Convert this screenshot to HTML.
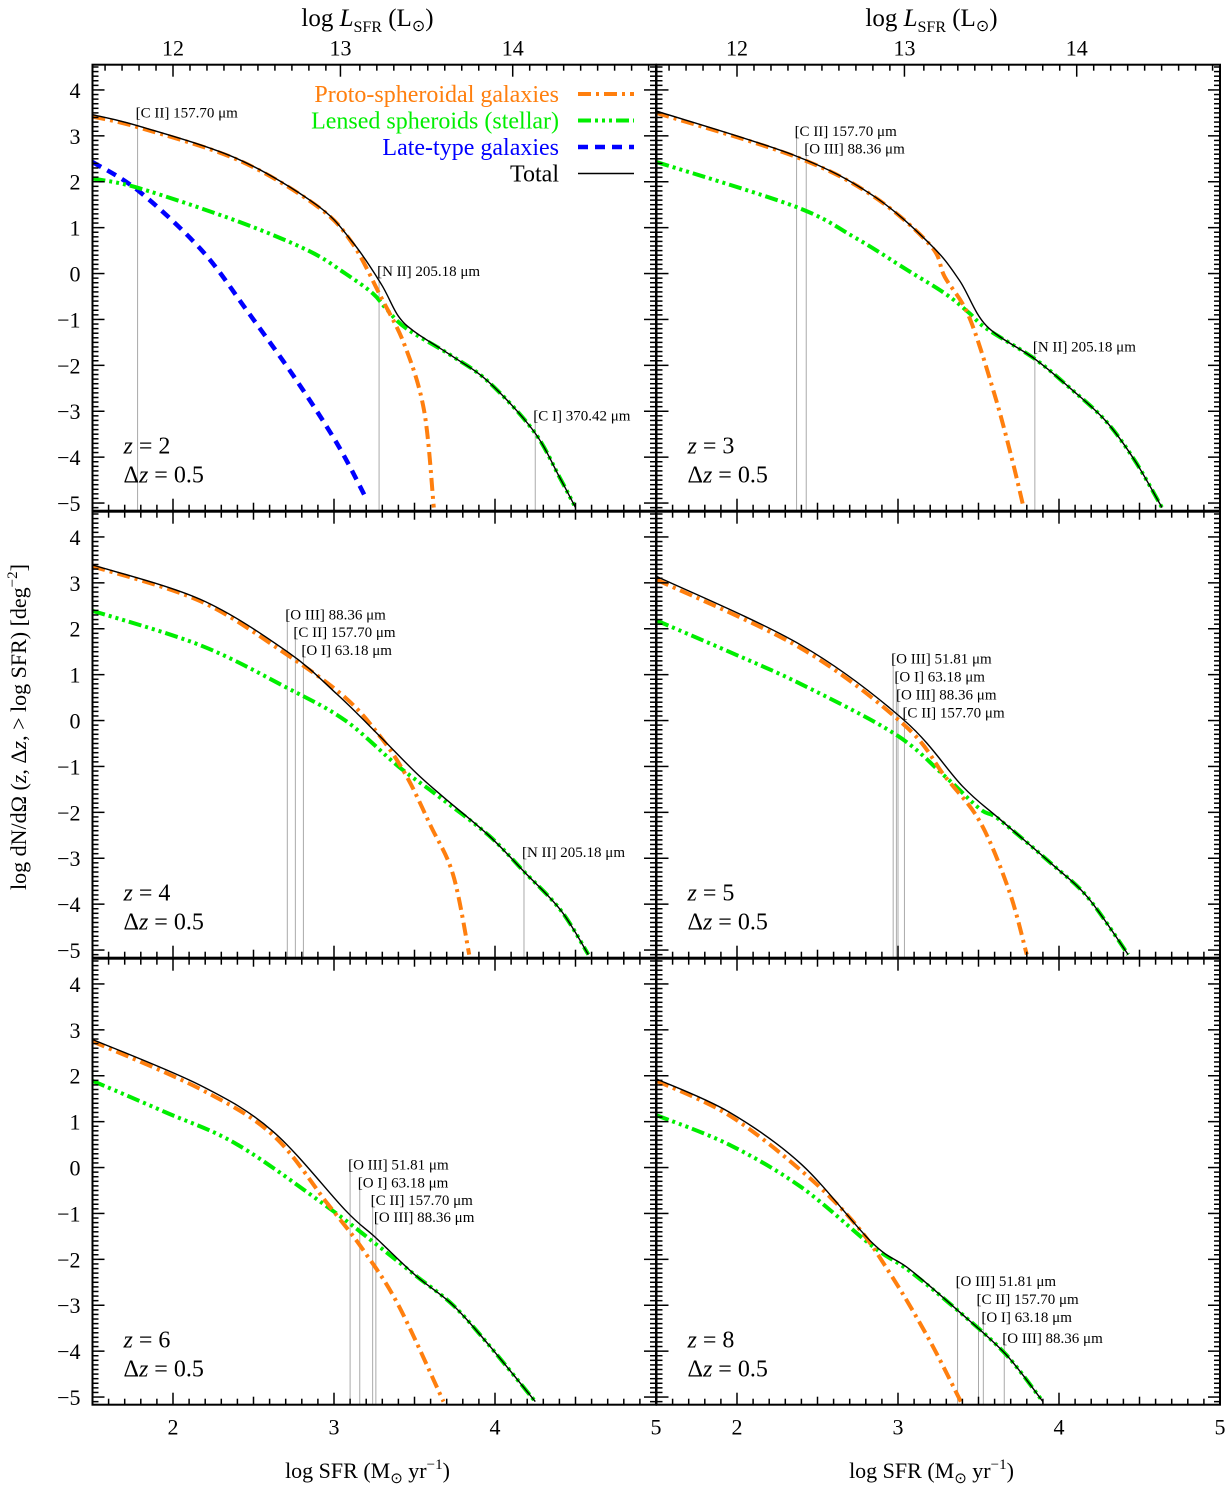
<!DOCTYPE html>
<html><head><meta charset="utf-8">
<style>
html,body{margin:0;padding:0;background:#fff;}
svg{display:block;font-family:"Liberation Serif",serif;}
</style></head>
<body>
<svg id="chart" width="1227" height="1489" viewBox="0 0 1227 1489" xmlns="http://www.w3.org/2000/svg"></svg>
<script>
// ---- data ----
const panelZ = ["2","3","4","5","6","8"];
const xTicks = [2,3,4,5];
const yTicks = [-5,-4,-3,-2,-1,0,1,2,3,4];
const lTickLabels = ["12","13","14"];
const lTickSfr = [2.0,3.04,4.11];

const protoX = [
 [1.5,1.79,2.4,2.89,3.11,3.29,3.44,3.56,3.62],
 [1.5,2.36,2.84,3.2,3.29,3.44,3.6,3.71,3.78],
 [1.5,2.17,2.71,3.07,3.29,3.45,3.6,3.74,3.84],
 [1.5,2.4,3.04,3.29,3.51,3.69,3.8],
 [1.5,2.17,2.62,2.96,3.18,3.4,3.68],
 [1.5,1.95,2.4,2.73,2.96,3.2,3.39]];
const protoY = [
 [3.42,3.18,2.48,1.48,0.68,-0.5,-1.57,-3.0,-5.1],
 [3.5,2.55,1.7,0.62,-0.07,-0.93,-2.64,-4.07,-5.1],
 [3.36,2.6,1.43,0.5,-0.36,-1.21,-2.29,-3.36,-5.1],
 [3.07,1.57,-0.1,-1.21,-2.21,-3.71,-5.1],
 [2.75,1.71,0.71,-0.79,-1.79,-3.0,-5.1],
 [1.89,1.14,-0.07,-1.21,-2.36,-3.79,-5.1]];
const lensX = [
 [1.5,1.79,2.4,2.84,3.07,3.24,3.33,3.45,3.73,3.96,4.24,4.4,4.5],
 [1.5,2.36,2.73,3.06,3.29,3.44,3.55,3.85,4.07,4.29,4.47,4.64],
 [1.5,2.17,2.71,3.07,3.4,3.63,3.96,4.18,4.41,4.58],
 [1.5,1.95,2.4,2.98,3.29,3.51,3.63,3.96,4.18,4.43],
 [1.5,1.95,2.4,2.96,3.25,3.51,3.74,3.96,4.25],
 [1.5,1.95,2.4,2.84,3.07,3.38,3.67,3.9]];
const lensY = [
 [2.07,1.86,1.14,0.5,0.0,-0.43,-0.79,-1.2,-1.79,-2.36,-3.43,-4.43,-5.1],
 [2.43,1.46,0.79,0.07,-0.43,-0.85,-1.2,-1.86,-2.5,-3.21,-4.07,-5.1],
 [2.39,1.64,0.71,0.0,-1.0,-1.6,-2.5,-3.29,-4.14,-5.1],
 [2.18,1.5,0.79,-0.29,-1.21,-1.93,-2.16,-3.14,-3.86,-5.1],
 [1.89,1.21,0.5,-0.86,-1.64,-2.36,-3.0,-3.86,-5.1],
 [1.14,0.5,-0.43,-1.71,-2.25,-3.14,-4.07,-5.1]];
const totalX = [
 [1.5,1.79,2.4,2.89,3.11,3.29,3.4,3.51,3.73,3.96,4.24,4.4,4.5],
 [1.5,2.36,2.84,3.2,3.38,3.55,3.85,4.07,4.29,4.47,4.64],
 [1.5,2.17,2.71,3.02,3.29,3.51,3.67,3.96,4.18,4.41,4.58],
 [1.5,2.4,3.04,3.4,3.63,3.96,4.18,4.43],
 [1.5,2.17,2.62,3.07,3.25,3.51,3.74,3.96,4.25],
 [1.5,1.95,2.4,2.84,3.07,3.38,3.67,3.9]];
const totalY = [
 [3.46,3.21,2.5,1.5,0.71,-0.21,-0.93,-1.29,-1.79,-2.36,-3.43,-4.43,-5.1],
 [3.54,2.57,1.71,0.64,-0.14,-1.14,-1.86,-2.5,-3.21,-4.07,-5.1],
 [3.39,2.64,1.5,0.57,-0.36,-1.14,-1.64,-2.5,-3.29,-4.14,-5.1],
 [3.14,1.64,0.0,-1.43,-2.14,-3.14,-3.86,-5.1],
 [2.79,1.79,0.79,-0.93,-1.5,-2.36,-3.0,-3.86,-5.1],
 [1.93,1.21,0.07,-1.64,-2.21,-3.14,-4.07,-5.1]];
const lateX = [1.5,1.79,2.18,2.47,2.76,3.02,3.2];
const lateY = [2.43,1.79,0.5,-0.86,-2.29,-3.71,-4.9];

// annotations: [panel, xSFR, labelYvalue, text]
const lines = [
 [0,1.78,3.4,"[C II] 157.70 μm"],[0,3.28,-0.05,"[N II] 205.18 μm"],[0,4.25,-3.2,"[C I] 370.42 μm"],
 [1,2.37,3.0,"[C II] 157.70 μm"],[1,2.43,2.62,"[O III] 88.36 μm"],[1,3.85,-1.7,"[N II] 205.18 μm"],
 [2,2.71,2.2,"[O III] 88.36 μm"],[2,2.76,1.82,"[C II] 157.70 μm"],[2,2.81,1.43,"[O I] 63.18 μm"],[2,4.18,-2.97,"[N II] 205.18 μm"],
 [3,2.97,1.24,"[O III] 51.81 μm"],[3,2.99,0.85,"[O I] 63.18 μm"],[3,3.0,0.46,"[O III] 88.36 μm"],[3,3.04,0.07,"[C II] 157.70 μm"],
 [4,3.1,-0.04,"[O III] 51.81 μm"],[4,3.16,-0.43,"[O I] 63.18 μm"],[4,3.24,-0.82,"[C II] 157.70 μm"],[4,3.26,-1.19,"[O III] 88.36 μm"],
 [5,3.37,-2.58,"[O III] 51.81 μm"],[5,3.5,-2.97,"[C II] 157.70 μm"],[5,3.53,-3.36,"[O I] 63.18 μm"],[5,3.66,-3.82,"[O III] 88.36 μm"]];

// ---- geometry ----
const NS="http://www.w3.org/2000/svg";
const svg=document.getElementById("chart");
const colL=[92.5,656.5], rowT=[64.7,511.7,958.7];
const PW=563.5, PH=446, XPU=161, YPU=45.9, YMAX=4.55;
function px(p,x){return colL[p%2]+(x-1.5)*XPU;}
function py(p,y){return rowT[Math.floor(p/2)]+(YMAX-y)*YPU;}
function mk(tag,attrs,parent){const e=document.createElementNS(NS,tag);for(const k in attrs)e.setAttribute(k,attrs[k]);(parent||svg).appendChild(e);return e;}
function smooth(pts){
 let d="M"+pts[0][0].toFixed(1)+","+pts[0][1].toFixed(1);
 for(let i=0;i<pts.length-1;i++){
  const p0=pts[i-1]||pts[i],p1=pts[i],p2=pts[i+1],p3=pts[i+2]||p2;
  const c1=[p1[0]+(p2[0]-p0[0])/6,p1[1]+(p2[1]-p0[1])/6];
  const c2=[p2[0]-(p3[0]-p1[0])/6,p2[1]-(p3[1]-p1[1])/6];
  d+=" C"+c1[0].toFixed(1)+","+c1[1].toFixed(1)+" "+c2[0].toFixed(1)+","+c2[1].toFixed(1)+" "+p2[0].toFixed(1)+","+p2[1].toFixed(1);
 }
 return d;
}
const defs=mk("defs",{});
for(let p=0;p<6;p++){
 const cp=mk("clipPath",{id:"clip"+p},defs);
 mk("rect",{x:colL[p%2],y:rowT[Math.floor(p/2)],width:PW,height:PH},cp);
}
function series(p,xs,ys,style,name){
 const pts=xs.map((x,i)=>[px(p,x),py(p,ys[i])]);
 const e=mk("path",Object.assign({d:smooth(pts),fill:"none","clip-path":"url(#clip"+p+")"},style));
 
 
}
const protoStyle={stroke:"#ff7f0e","stroke-width":4,"stroke-dasharray":"13,5,3,5"};
const lensStyle={stroke:"#00ee00","stroke-width":4,"stroke-dasharray":"13,4,3,4,3,4,3,4"};
const lateStyle={stroke:"#0000ff","stroke-width":4.5,"stroke-dasharray":"10,7"};
const totStyle={stroke:"#000","stroke-width":1.4};

for(let p=0;p<6;p++){
 const g=mk("g",{});
 
 
 const L=colL[p%2],T=rowT[Math.floor(p/2)];
 lines.filter(a=>a[0]===p).forEach(a=>{
  const x=px(p,a[1]),yl=py(p,a[2]);
  const ln=mk("line",{x1:x,x2:x,y1:yl-10,y2:T+PH,stroke:"#aaa","stroke-width":1});
  
  
  const t=mk("text",{x:x-2,y:yl,"font-size":15});
  t.textContent=a[3];
  
  
 });
 if(p===0) series(p,lateX,lateY,lateStyle,'late-type-curve');
 series(p,lensX[p],lensY[p],lensStyle,'lensed-spheroids-curve');
 series(p,protoX[p],protoY[p],protoStyle,'proto-spheroidal-curve');
 series(p,totalX[p],totalY[p],totStyle,'total-curve');
 mk("rect",{x:L,y:T,width:PW,height:PH,fill:"none",stroke:"#000","stroke-width":2});
 for(let v=-51;v<=45;v++){
  const y=py(p,v/10); if(y<T||y>T+PH)continue;
  const len=(v%10===0)?12:6;
  mk("line",{x1:L,x2:L+len,y1:y,y2:y,stroke:"#000","stroke-width":1.5});
  mk("line",{x1:L+PW,x2:L+PW-len,y1:y,y2:y,stroke:"#000","stroke-width":1.5});
 }
 for(let v=15;v<=50;v++){
  const x=px(p,v/10);
  const len=(v%5===0)?(v%10===0?12:8):6;
  mk("line",{x1:x,x2:x,y1:T+PH,y2:T+PH-len,stroke:"#000","stroke-width":1.5});
  if(T>70) mk("line",{x1:x,x2:x,y1:T,y2:T+len,stroke:"#000","stroke-width":1.5});
 }
 if(p<2){
  for(let i=0;i<3;i++){
   const x=px(p,lTickSfr[i]);
   mk("line",{x1:x,x2:x,y1:T,y2:T+12,stroke:"#000","stroke-width":1.5});
   const t=mk("text",{x:x,y:T-9,"font-size":22,"text-anchor":"middle"});
   t.textContent=lTickLabels[i];
   
   
  }
  for(let k=-10;k<=30;k++){
   const s=lTickSfr[0]+k*0.1*(lTickSfr[2]-lTickSfr[0])/2;
   const x=px(p,s); if(x<L||x>L+PW||k%10===0)continue;
   mk("line",{x1:x,x2:x,y1:T,y2:T+6,stroke:"#000","stroke-width":1.5});
  }
  const tt=mk("text",{x:L+275,y:26,"font-size":25,"text-anchor":"middle"});
  tt.innerHTML='log <tspan font-style="italic">L</tspan><tspan font-size="16" dy="6">SFR</tspan><tspan dy="-6"> (L</tspan><tspan font-size="16" dy="5">⊙</tspan><tspan dy="-5">)</tspan>';
  
  
 }
 if(p%2===0){
  yTicks.forEach(v=>{
   const t=mk("text",{x:L-12,y:py(p,v)+8,"font-size":22,"text-anchor":"end"});
   t.textContent=v<0?"−"+(-v):String(v);
   
   
  });
 }
 if(p>=4){
  xTicks.forEach(v=>{
   const t=mk("text",{x:px(p,v),y:T+PH+30,"font-size":22,"text-anchor":"middle"});
   t.textContent=String(v);
   
   
  });
  const xt=mk("text",{x:L+275,y:1478,"font-size":22,"text-anchor":"middle"});
  xt.innerHTML='log SFR (M<tspan font-size="15" dy="5">⊙</tspan><tspan dy="-5"> yr</tspan><tspan font-size="15" dy="-9">−1</tspan><tspan dy="9">)</tspan>';
  
  
 }
 const zt=mk("text",{x:L+31,y:T+PH-57,"font-size":24});
 zt.innerHTML='<tspan font-style="italic">z</tspan> = '+panelZ[p];
 
 
 const dz=mk("text",{x:L+31,y:T+PH-28,"font-size":24});
 dz.innerHTML='Δ<tspan font-style="italic">z</tspan> = 0.5';
 
 
}
const yt=mk("text",{x:0,y:0,"font-size":22,"text-anchor":"middle",transform:"translate(26,727) rotate(-90)"});
yt.innerHTML='log dN/dΩ (<tspan font-style="italic">z</tspan>, Δ<tspan font-style="italic">z</tspan>, &gt; log SFR) [deg<tspan font-size="15" dy="-9">−2</tspan><tspan dy="9">]</tspan>';


const leg=[["Proto-spheroidal galaxies","#ff7f0e",protoStyle],["Lensed spheroids (stellar)","#00ee00",lensStyle],["Late-type galaxies","#0000ff",lateStyle],["Total","#000",totStyle]];
leg.forEach((l,i)=>{
 const y=102+i*26.5;
 const t=mk("text",{x:559,y:y,"font-size":24,"text-anchor":"end",fill:l[1]});
 t.textContent=l[0];
 
 
 const ln=mk("line",Object.assign({x1:578,x2:634,y1:y-8,y2:y-8},l[2]));
 
 
});
</script>
</body></html>
